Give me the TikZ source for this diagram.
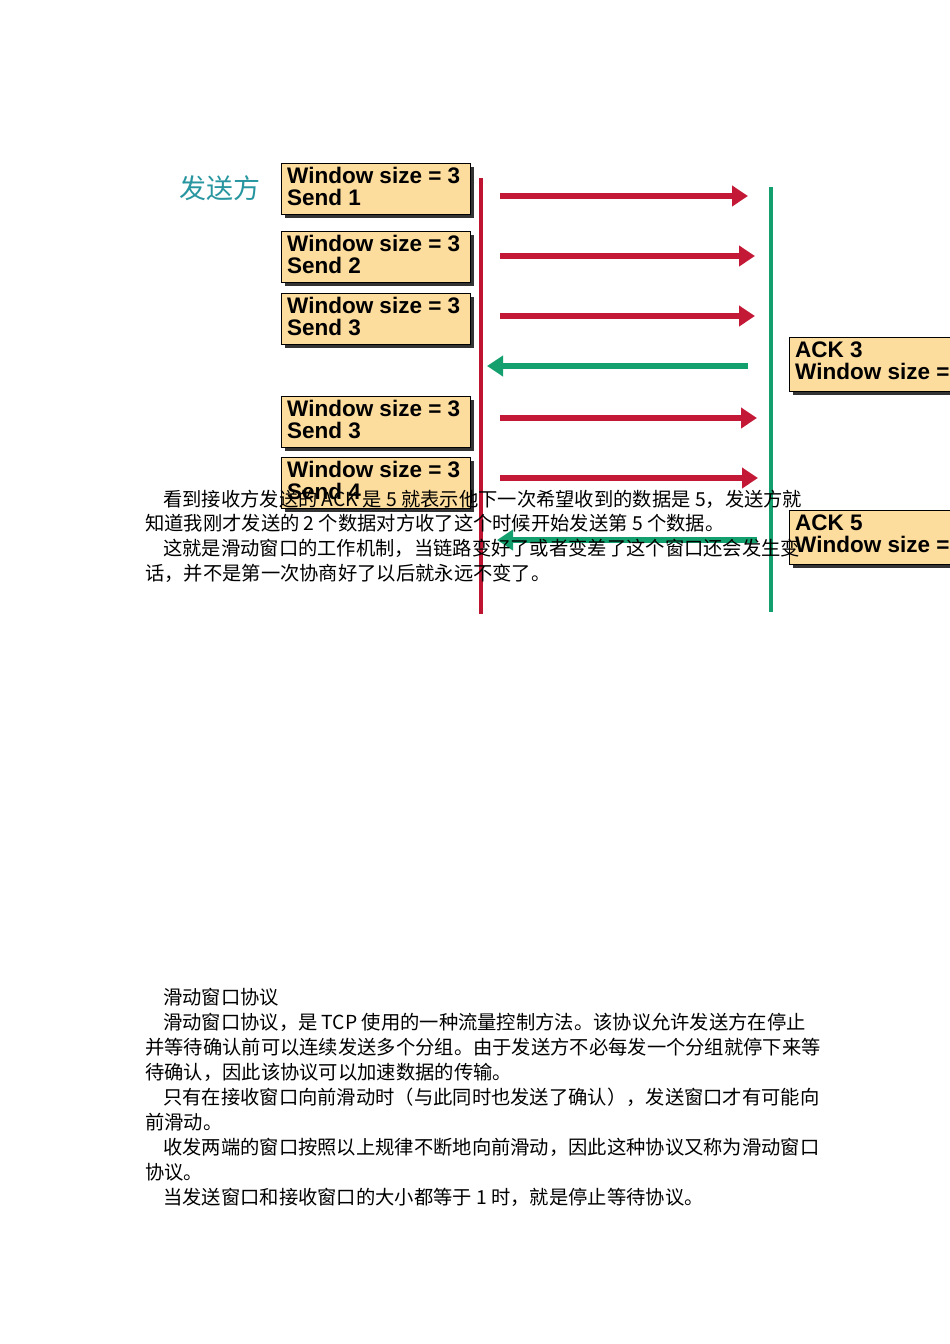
\documentclass[tikz,border=0pt]{standalone}
\usepackage{fontspec}
\usetikzlibrary{arrows.meta}
\setmainfont{Liberation Serif}
\newfontfamily\cjk{Noto Sans CJK SC}
\newfontfamily\boxf{Liberation Sans}
\begin{document}
\begin{tikzpicture}[x=1pt,y=-1pt,
  wbox/.style={draw=black,line width=1.2pt,fill=yellow!30!orange!35,anchor=north west,minimum width=189pt,minimum height=51pt,inner sep=0pt},
  wtxt/.style={anchor=north west,align=left,font=\boxf\bfseries\fontsize{22.5}{22}\selectfont,inner sep=0pt},
  redl/.style={line width=4pt,draw={rgb,255:red,190;green,20;blue,50}},
  grnl/.style={line width=4pt,draw={rgb,255:red,20;green,160;blue,110}},
  redarr/.style={line width=6pt,draw={rgb,255:red,195;green,25;blue,55},-{Triangle[length=16pt,width=20pt]}},
  grnarr/.style={line width=6pt,draw={rgb,255:red,20;green,160;blue,110},-{Triangle[length=16pt,width=20pt]}},
  ptxt/.style={anchor=base west,inner sep=0pt,font=\cjk\fontsize{19.3}{25}\selectfont}]
\useasboundingbox (0,0) rectangle (950,1344);
\fill[white] (0,0) rectangle (950,1344);
\begin{scope}
\clip (0,0) rectangle (950,1344);
\node[font=\cjk\fontsize{27}{28}\selectfont,text={rgb,255:red,40;green,150;blue,160}] (snd) at (220,188) {发送方};
\foreach \n/\x/\y/\t in {b1/281/163/{Window size = 3\\Send 1},b2/281/231/{Window size = 3\\Send 2},b3/281/293/{Window size = 3\\Send 3},b4/281/396/{Window size = 3\\Send 3},b5/281/457/{Window size = 3\\Send 4}}{
  \fill[black!80] (\x+4,\y+4) rectangle (\x+193,\y+55);
  \node[wbox] (\n) at (\x,\y) {};
  \node[wtxt] at (\x+6,\y+4) {\t};
}
\foreach \n/\x/\y/\t in {a3/789/337/{ACK 3\\Window size = 3},a5/789/510/{ACK 5\\Window size = 3}}{
  \fill[black!80] (\x+4,\y+4) rectangle (\x+193,\y+58);
  \node[wbox,minimum height=54pt] (\n) at (\x,\y) {};
  \node[wtxt] at (\x+6,\y+5) {\t};
}
\coordinate (s0) at (481,178); \coordinate (s1) at (481,614);
\coordinate (r0) at (771,187); \coordinate (r1) at (771,612);
\draw[redl] (s0) -- (s1);
\draw[grnl] (r0) -- (r1);
\foreach \y/\e in {196/748,256/755,316/755,418/757,478/758}{
  \draw[redarr] (500,\y) coordinate (u\y) -- (\e,\y) coordinate (v\y);
}
\draw[grnarr] (748,366) coordinate (g1) -- (487,366) coordinate (g2);
\draw[grnarr] (757,540) coordinate (g3) -- (497,540) coordinate (g4);
\end{scope}
\node[ptxt] (t1) at (163,506) {看到接收方发送的 ACK 是 5 就表示他下一次希望收到的数据是 5，发送方就};
\node[ptxt] (t2) at (145,530) {知道我刚才发送的 2 个数据对方收了这个时候开始发送第 5 个数据。};
\node[ptxt] (t3) at (163,555) {这就是滑动窗口的工作机制，当链路变好了或者变差了这个窗口还会发生变};
\node[ptxt] (t4) at (145,580) {话，并不是第一次协商好了以后就永远不变了。};
\node[ptxt] (p1) at (163,1004) {滑动窗口协议};
\node[ptxt] (p2) at (163,1029) {滑动窗口协议，是 TCP 使用的一种流量控制方法。该协议允许发送方在停止};
\node[ptxt] (p3) at (145,1054) {并等待确认前可以连续发送多个分组。由于发送方不必每发一个分组就停下来等};
\node[ptxt] (p4) at (145,1079) {待确认，因此该协议可以加速数据的传输。};
\node[ptxt] (p5) at (163,1104) {只有在接收窗口向前滑动时（与此同时也发送了确认），发送窗口才有可能向};
\node[ptxt] (p6) at (145,1129) {前滑动。};
\node[ptxt] (p7) at (163,1154) {收发两端的窗口按照以上规律不断地向前滑动，因此这种协议又称为滑动窗口};
\node[ptxt] (p8) at (145,1179) {协议。};
\node[ptxt] (p9) at (163,1204) {当发送窗口和接收窗口的大小都等于 1 时，就是停止等待协议。};
\end{tikzpicture}
\end{document}
